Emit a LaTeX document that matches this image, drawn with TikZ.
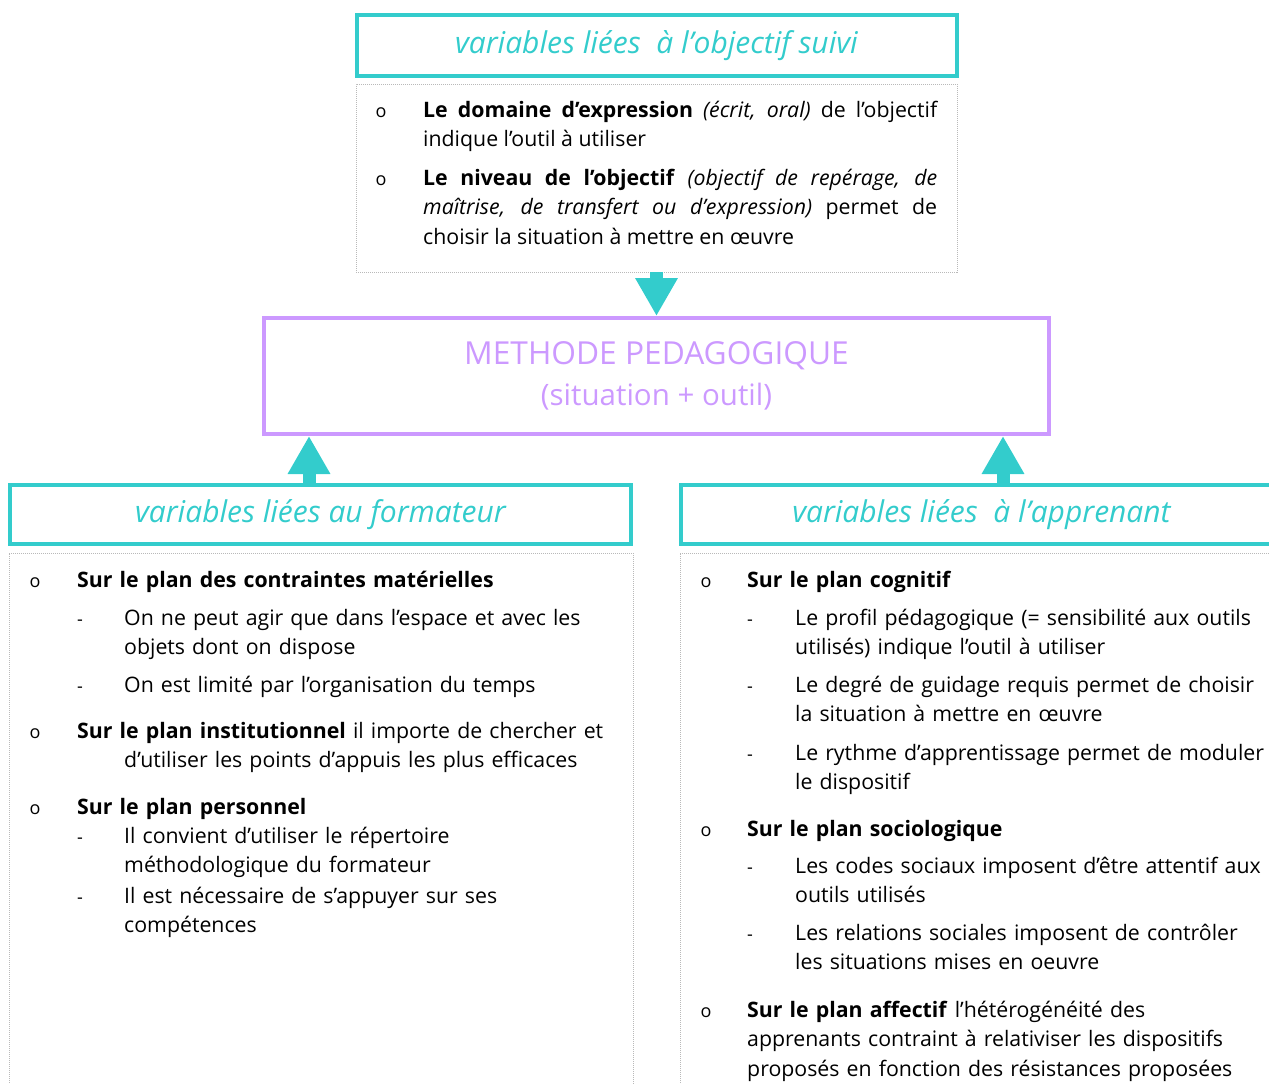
\documentclass[tikz,border=0pt]{standalone}
\usepackage{fontspec}
\setmainfont{Open Sans}
\usetikzlibrary{arrows.meta}
\definecolor{tealc}{RGB}{51,204,204}
\definecolor{purpc}{RGB}{204,153,255}
\definecolor{dashg}{RGB}{185,185,185}
\begin{document}
\begin{tikzpicture}[x=1pt,y=-1pt,
  titlebox/.style={draw=tealc,line width=4pt,inner sep=0pt,text=tealc,font=\fontsize{30}{34}\selectfont\itshape},
  textbox/.style={draw=dashg,line width=0.7pt,dash pattern=on 1.2pt off 0.8pt,inner sep=0pt},
  methbox/.style={draw=purpc,line width=4pt,inner sep=0pt,text=purpc,align=center},
  body/.style={font=\fontsize{21.3}{29.5}\selectfont,anchor=base west,inner sep=0pt,text width=580pt,align=left},
  jbody/.style={font=\fontsize{21.3}{29.5}\selectfont,anchor=base west,inner sep=0pt,text width=514pt,align=justify},
  bul/.style={font=\fontsize{18}{18}\selectfont,anchor=base,inner sep=0pt},
  barrow/.style={draw=tealc,line width=13pt,-{Triangle[width=40pt,length=38pt,fill=tealc]}}
]
\useasboundingbox (0,0) rectangle (1269,1084);
\begin{scope}
\clip (0,0) rectangle (1269,1084);
% boxes
\node[titlebox,minimum width=600pt,minimum height=61.5pt] (t1) at (656.5,45.25) {variables liées\ \ à l’objectif suivi};
\node[textbox,minimum width=601pt,minimum height=188pt] (c1) at (656.5,178) {};
\node[methbox,minimum width=785pt,minimum height=116pt] (meth) at (656.5,376)
  {{\fontsize{31.7}{36}\selectfont METHODE PEDAGOGIQUE}\\[12pt]{\fontsize{29.5}{34}\selectfont(situation + outil)}};
\node[titlebox,minimum width=621pt,minimum height=59pt] (t2) at (320.5,514.5) {variables liées au formateur};
\node[titlebox,minimum width=601pt,minimum height=59pt] (t3) at (981.5,514.5) {variables liées\ \ à l’apprenant};
\node[textbox,minimum width=624pt,minimum height=547pt] (c2) at (321,826.5) {};
\node[textbox,minimum width=610pt,minimum height=547pt] (c3) at (985,826.5) {};
% arrows
\coordinate (xl) at (309,0);
\coordinate (xr) at (1003,0);
\draw[barrow] (c1.south) -- (meth.north);
\draw[barrow] (t2.north -| xl) -- (meth.south -| xl);
\draw[barrow] (t3.north -| xr) -- (meth.south -| xr);
% top content
\node[bul] (ob1) at (381,117) {o};
\node[jbody] (tx1) at (423,117) {\textbf{Le domaine d’expression} \textit{(écrit, oral)} de l’objectif\linebreak indique l’outil à utiliser};
\node[bul] (ob2) at (381,185.3) {o};
\node[jbody] (tx2) at (423,185.3) {\textbf{Le niveau de l’objectif} \textit{(objectif de repérage, de}\linebreak \textit{maîtrise, de transfert ou d’expression)} permet de\linebreak choisir la situation à mettre en œuvre};
% left content
\node[bul] (lo1) at (35,587) {o};
\node[body] (lt1) at (77,587) {\textbf{Sur le plan des contraintes matérielles}};
\node[bul] (ld1) at (80,625) {-};
\node[body] (lt2) at (124,625) {On ne peut agir que dans l’espace et avec les\\objets dont on dispose};
\node[bul] (ld2) at (80,692) {-};
\node[body] (lt3) at (124,692) {On est limité par l’organisation du temps};
\node[bul] (lo2) at (35,738) {o};
\node[body] (lt4) at (77,738) {\textbf{Sur le plan institutionnel} il importe de chercher et\\\hspace*{47pt}d’utiliser les points d’appuis les plus efficaces};
\node[bul] (lo3) at (35,814) {o};
\node[body] (lt5) at (77,814) {\textbf{Sur le plan personnel}};
\node[bul] (ld3) at (80,843) {-};
\node[body] (lt6) at (124,843) {Il convient d’utiliser le répertoire\\méthodologique du formateur};
\node[bul] (ld4) at (80,903) {-};
\node[body] (lt7) at (124,903) {Il est nécessaire de s’appuyer sur ses\\compétences};
% right content
\node[bul] (ro1) at (706,587) {o};
\node[body] (rt1) at (747,587) {\textbf{Sur le plan cognitif}};
\node[bul] (rd1) at (750,625) {-};
\node[body] (rt2) at (795,625) {Le profil pédagogique (= sensibilité aux outils\\utilisés) indique l’outil à utiliser};
\node[bul] (rd2) at (750,692) {-};
\node[body] (rt3) at (795,692) {Le degré de guidage requis permet de choisir\\la situation à mettre en œuvre};
\node[bul] (rd3) at (750,760) {-};
\node[body] (rt4) at (795,760) {Le rythme d’apprentissage permet de moduler\\le dispositif};
\node[bul] (ro2) at (706,836) {o};
\node[body] (rt5) at (747,836) {\textbf{Sur le plan sociologique}};
\node[bul] (rd4) at (750,873) {-};
\node[body] (rt6) at (795,873) {Les codes sociaux imposent d’être attentif aux\\outils utilisés};
\node[bul] (rd5) at (750,940) {-};
\node[body] (rt7) at (795,940) {Les relations sociales imposent de contrôler\\les situations mises en oeuvre};
\node[bul] (ro3) at (706,1017) {o};
\node[body] (rt8) at (747,1017) {\textbf{Sur le plan affectif} l’hétérogénéité des\\apprenants contraint à relativiser les dispositifs\\proposés en fonction des résistances proposées};
\end{scope}
\end{tikzpicture}
\end{document}
